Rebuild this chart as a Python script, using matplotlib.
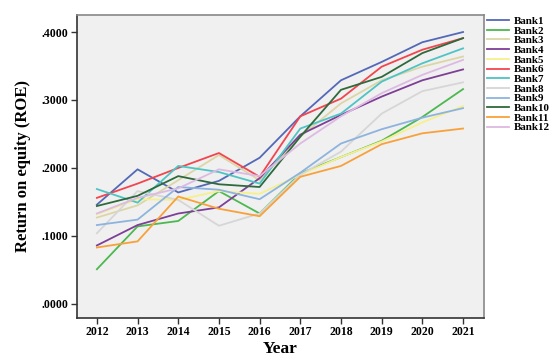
import matplotlib
matplotlib.use("Agg")
import matplotlib.pyplot as plt

years = [2012, 2013, 2014, 2015, 2016, 2017, 2018, 2019, 2020, 2021]
banks = ["Bank1", "Bank2", "Bank3", "Bank4", "Bank5", "Bank6",
         "Bank7", "Bank8", "Bank9", "Bank10", "Bank11", "Bank12"]

bank1 = [0.146, 0.198, 0.164, 0.181, 0.215, 0.276, 0.329, 0.356, 0.385, 0.400]
bank2 = [0.051, 0.114, 0.122, 0.166, 0.133, 0.192, 0.216, 0.240, 0.275, 0.316]
bank3 = [0.127, 0.145, 0.182, 0.219, 0.182, 0.246, 0.295, 0.329, 0.349, 0.364]
bank4 = [0.086, 0.116, 0.133, 0.142, 0.185, 0.249, 0.278, 0.305, 0.329, 0.345]
bank5 = [0.132, 0.154, 0.153, 0.166, 0.162, 0.190, 0.216, 0.239, 0.267, 0.291]
bank6 = [0.156, 0.177, 0.200, 0.222, 0.187, 0.276, 0.302, 0.349, 0.374, 0.391]
bank7 = [0.169, 0.149, 0.203, 0.194, 0.177, 0.258, 0.280, 0.327, 0.354, 0.376]
bank8 = [0.104, 0.166, 0.153, 0.115, 0.133, 0.190, 0.224, 0.280, 0.313, 0.326]
bank9 = [0.116, 0.124, 0.172, 0.168, 0.154, 0.193, 0.236, 0.257, 0.274, 0.288]
bank10 = [0.144, 0.159, 0.188, 0.176, 0.172, 0.246, 0.315, 0.334, 0.369, 0.391]
bank11 = [0.083, 0.092, 0.158, 0.140, 0.129, 0.187, 0.203, 0.235, 0.251, 0.258]
bank12 = [0.133, 0.156, 0.170, 0.198, 0.188, 0.236, 0.276, 0.310, 0.337, 0.359]

series = [bank1, bank2, bank3, bank4, bank5, bank6,
          bank7, bank8, bank9, bank10, bank11, bank12]
colors = ["#5468b8", "#4cb84f", "#dcd6a6", "#7e3f96", "#f6f08c", "#f2454f",
          "#4ec4c4", "#d6d6d6", "#8db4de", "#2e6a3c", "#f8a13a", "#dcbae2"]

ytick_vals = [0.0, 0.1, 0.2, 0.3, 0.4]
ytick_labels = [".0000", ".1000", ".2000", ".3000", ".4000"]

fig = plt.figure(figsize=(5.57, 3.58), dpi=100)
ax = fig.add_axes([0.138, 0.112, 0.731, 0.846])
ax.set_facecolor("#f0f0f0")

for name, vals, c in zip(banks, series, colors):
    ax.plot(years, vals, color=c, lw=1.3, label=name)

ax.set_xlim(2011.508, 2021.516)
ax.set_ylim(-0.0206, 0.425)
ax.set_xticks(years)
ax.set_xticklabels([str(y) for y in years], fontfamily="Liberation Serif",
                   fontweight="bold", fontsize=8.5)
ax.set_yticks(ytick_vals)
ax.set_yticklabels(ytick_labels, fontfamily="Liberation Serif",
                   fontweight="bold", fontsize=8.5)
ax.tick_params(axis="both", length=4, width=1, color="#333333", pad=2)
for side in ["top", "right"]:
    ax.spines[side].set_color("#888888")
    ax.spines[side].set_linewidth(1.2)
for side in ["left", "bottom"]:
    ax.spines[side].set_color("#333333")
    ax.spines[side].set_linewidth(1.2)

ax.set_xlabel("Year", fontfamily="Liberation Serif", fontweight="bold",
              fontsize=12.5, labelpad=2)
ax.set_ylabel("Return on equity (ROE)", fontfamily="Liberation Serif",
              fontweight="bold", fontsize=12, labelpad=8)

leg = ax.legend(loc="upper left", bbox_to_anchor=(1.0, 1.005), frameon=False,
                prop={"family": "Liberation Serif", "weight": "bold", "size": 7.9},
                handlelength=2.0, labelspacing=0.0, borderaxespad=0.15,
                handletextpad=0.5, borderpad=0.1)

fig.savefig("out.png", dpi=100, facecolor="white")
